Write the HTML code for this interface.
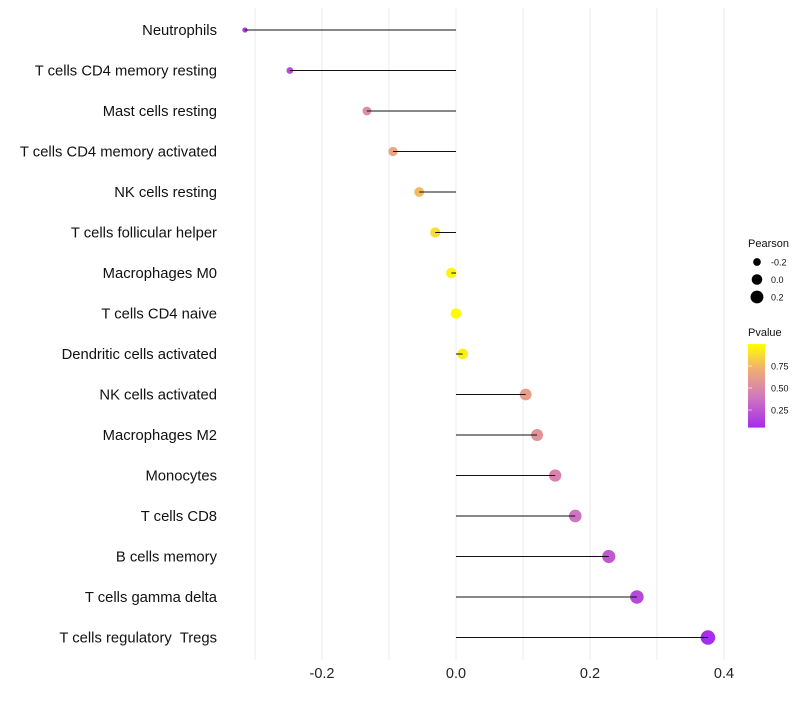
<!DOCTYPE html>
<html><head><meta charset="utf-8"><style>
body{margin:0;background:#fff;font-family:"Liberation Sans",sans-serif}
</style></head><body>
<svg id="chart" width="800" height="700" xmlns="http://www.w3.org/2000/svg"></svg>
<script>
const categories=["Neutrophils","T cells CD4 memory resting","Mast cells resting","T cells CD4 memory activated","NK cells resting","T cells follicular helper","Macrophages M0","T cells CD4 naive","Dendritic cells activated","NK cells activated","Macrophages M2","Monocytes","T cells CD8","B cells memory","T cells gamma delta","T cells regulatory  Tregs"];
const pearson=[-0.315,-0.248,-0.133,-0.094,-0.055,-0.031,-0.007,0.0,0.010,0.104,0.121,0.148,0.178,0.228,0.270,0.376];
const pvalue=[0.12,0.2,0.52,0.66,0.76,0.88,0.96,0.99,0.94,0.62,0.56,0.46,0.38,0.26,0.18,0.06];
const xTicks=[-0.2,0.0,0.2,0.4];
const xGrid=[-0.3,-0.2,-0.1,0.0,0.1,0.2,0.3,0.4];
const sizeLegend=[-0.2,0.0,0.2];
const colorTicks=[0.25,0.5,0.75];

const svg=document.getElementById('chart');
const NS='http://www.w3.org/2000/svg';
const x=v=>456+v*670;
const y=i=>30+i*40.5;
const r=p=>Math.sqrt(Math.max(2,28+66.6*p));
const stops=[[0,[160,32,240]],[0.4,[208,120,190]],[0.72,[240,176,112]],[1,[255,255,0]]];
function col(p){for(let k=1;k<stops.length;k++){if(p<=stops[k][0]){const a=stops[k-1],b=stops[k],t=(p-a[0])/(b[0]-a[0]);const c=a[1].map((v,j)=>Math.round(v+(b[1][j]-v)*t));return `rgb(${c})`;}}return 'rgb(255,255,0)';}
function mk(tag,at,txt){const e=document.createElementNS(NS,tag);for(const k in at)e.setAttribute(k,at[k]);if(txt!==undefined)e.textContent=txt;svg.appendChild(e);return e;}

xGrid.forEach(v=>{const g=mk('line',{x1:x(v),x2:x(v),y1:8,y2:660,stroke:'#ebebeb','stroke-width':1});

});
xTicks.forEach(v=>{const t=mk('text',{x:x(v),y:678,'text-anchor':'middle','font-size':14.5,fill:'#222'},v===0?'0.0':v.toFixed(1));

});
categories.forEach((c,i)=>{
const t=mk('text',{x:217,y:y(i)+5,'text-anchor':'end','font-size':14.8,fill:'#111',style:'white-space:pre'},c);


const d=mk('circle',{cx:x(pearson[i]),cy:y(i),r:r(pearson[i]),fill:col(pvalue[i])});


const l=mk('line',{x1:x(0),x2:x(pearson[i]),y1:y(i),y2:y(i),stroke:'#111','stroke-width':1});


});
const st=mk('text',{x:748,y:247,'font-size':11,fill:'#111'},'Pearson');


sizeLegend.forEach((v,k)=>{const cy=262+k*17.5;
const c=mk('circle',{cx:757,cy:cy,r:r(v),fill:'#000'});


const t=mk('text',{x:771,y:cy+3.5,'font-size':9,fill:'#111'},v.toFixed(1));

});
const ct=mk('text',{x:748,y:336,'font-size':11,fill:'#111'},'Pvalue');


const defs=mk('defs',{});const lg=document.createElementNS(NS,'linearGradient');lg.setAttribute('id','pg');lg.setAttribute('x1','0');lg.setAttribute('y1','1');lg.setAttribute('x2','0');lg.setAttribute('y2','0');defs.appendChild(lg);
const cb0=0.05,cb1=1.0;
for(let k=0;k<=20;k++){const p=cb0+(cb1-cb0)*k/20;const s=document.createElementNS(NS,'stop');s.setAttribute('offset',k/20);s.setAttribute('stop-color',col(p));lg.appendChild(s);}
const cy=p=>432-p*88;
const bar=mk('rect',{x:748,y:cy(cb1),width:17,height:cy(cb0)-cy(cb1),fill:'url(#pg)'});


colorTicks.forEach(v=>{
const t=mk('text',{x:771,y:cy(v)+3.5,'font-size':9,fill:'#111'},v.toFixed(2));


const m=mk('line',{x1:748,x2:752,y1:cy(v),y2:cy(v),stroke:'#fff','stroke-opacity':0.6});

});
</script>
</body></html>
